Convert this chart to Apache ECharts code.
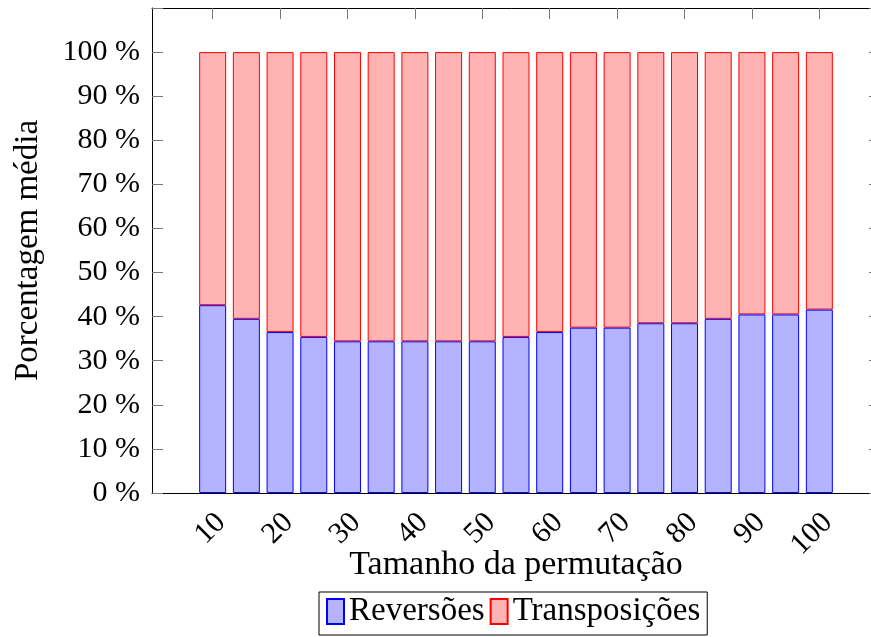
<!DOCTYPE html>
<html>
<head>
<meta charset="utf-8">
<script src="https://cdn.jsdelivr.net/npm/echarts@6/dist/echarts.min.js"></script>
<style>
  html, body { margin: 0; padding: 0; background: #fff; }
  #chart { width: 871px; height: 637px; }
</style>
</head>
<body>
<div id="chart"></div>
<script>
// permutation sizes
var sizes = [10, 15, 20, 25, 30, 35, 40, 45, 50, 55, 60, 65, 70, 75, 80, 85, 90, 95, 100];
// average share of reversals (%)
var reversoes = [42.6, 39.5, 36.5, 35.4, 34.4, 34.4, 34.4, 34.4, 34.4, 35.4, 36.5, 37.5, 37.5, 38.5, 38.5, 39.5, 40.5, 40.5, 41.6];
// average share of transpositions (%)
var transposicoes = [57.4, 60.5, 63.5, 64.6, 65.6, 65.6, 65.6, 65.6, 65.6, 64.6, 63.5, 62.5, 62.5, 61.5, 61.5, 60.5, 59.5, 59.5, 58.4];
var xTicks = [10, 20, 30, 40, 50, 60, 70, 80, 90, 100];

var serif = 'Liberation Serif';

var initStackChart = function(chartId){
	var dom = document.getElementById(chartId);
	var myChart = echarts.init(dom);
	var option = null;

	// value first so the stack is done on y, size second (see encode)
	var pairs = function(ys){
		var out = [];
		for (var i = 0; i < sizes.length; i++) out.push([ys[i], sizes[i]]);
		return out;
	};

	var frameX = function(pos){
		return {
	        type: 'value',
	        min: 1,
	        max: 109,
	        position: pos,
	        axisLine: { show: true, onZero: false, lineStyle: { color: '#000', width: 1 } },
	        axisTick: { show: true, inside: true, length: 11, customValues: xTicks, lineStyle: { color: '#777' } },
	        axisLabel: { show: false },
	        splitLine: { show: false }
		};
	};

	var bottomX = frameX('bottom');
	bottomX.name = 'Tamanho da permutação';
	bottomX.nameLocation = 'middle';
	bottomX.nameGap = 55;
	bottomX.nameTextStyle = { fontFamily: serif, fontSize: 34, color: '#000' };

	option = {
	    animation: false,
	    grid: { left: 152, width: 728, top: 8, bottom: 144, outerBoundsMode: 'none', containLabel: false },
	    legend: {
	        left: 319,
	        top: 592,
	        itemWidth: 17,
	        itemHeight: 25,
	        itemGap: 5,
	        icon: 'rect',
	        borderColor: '#000',
	        borderWidth: 1,
	        borderRadius: 0,
	        padding: [3, 7, 7, 7],
	        textStyle: { fontFamily: serif, fontSize: 33, color: '#000' },
	        data: ['Reversões', 'Transposições']
	    },
	    xAxis: [
	        bottomX,
	        frameX('top'),
	        {
	            // label-only axis, slid a little right so the rotated labels sit like the original
	            type: 'value',
	            min: -0.26,
	            max: 107.74,
	            position: 'bottom',
	            axisLine: { show: false },
	            axisTick: { show: false },
	            axisLabel: {
	                customValues: xTicks,
	                rotate: 45,
	                margin: 25,
	                fontFamily: serif,
	                fontSize: 30,
	                color: '#000'
	            },
	            splitLine: { show: false }
	        }
	    ],
	    yAxis: [
	        {
	            type: 'value',
	            min: 0,
	            max: 110,
	            interval: 10,
	            position: 'left',
	            axisLine: { show: true, onZero: false, lineStyle: { color: '#000', width: 1 } },
	            axisTick: { show: true, inside: true, length: 11, lineStyle: { color: '#777' } },
	            axisLabel: {
	                margin: 12,
	                fontFamily: serif,
	                fontSize: 30,
	                color: '#000',
	                formatter: function(v){ return v > 100 ? '' : v + ' %'; }
	            },
	            splitLine: { show: false },
	            name: 'Porcentagem média',
	            nameLocation: 'middle',
	            nameRotate: 90,
	            nameGap: 107,
	            nameTextStyle: { fontFamily: serif, fontSize: 33, color: '#000' }
	        },
	        {
	            type: 'value',
	            min: 0,
	            max: 110,
	            interval: 10,
	            position: 'right',
	            axisLine: { show: true, onZero: false, lineStyle: { color: '#000', width: 1 } },
	            axisTick: { show: true, inside: true, length: 11, lineStyle: { color: '#777' } },
	            axisLabel: { show: false },
	            splitLine: { show: false }
	        }
	    ],
	    series: [
	        {
	            name: 'Reversões',
	            type: 'bar',
	            stack: 'total',
	            barWidth: 27,
	            z: 3,
	            encode: { x: 1, y: 0 },
	            itemStyle: { color: '#b3b3ff', borderColor: '#0000ff', borderWidth: 1 },
	            data: pairs(reversoes)
	        },
	        {
	            name: 'Transposições',
	            type: 'bar',
	            stack: 'total',
	            barWidth: 27,
	            z: 2,
	            encode: { x: 1, y: 0 },
	            itemStyle: { color: '#ffb3b3', borderColor: '#ff0000', borderWidth: 1 },
	            data: pairs(transposicoes)
	        }
	    ]
	};

	if (option && typeof option === "object") {
	    myChart.setOption(option, true);
	}
};

initStackChart('chart');
</script>
</body>
</html>
